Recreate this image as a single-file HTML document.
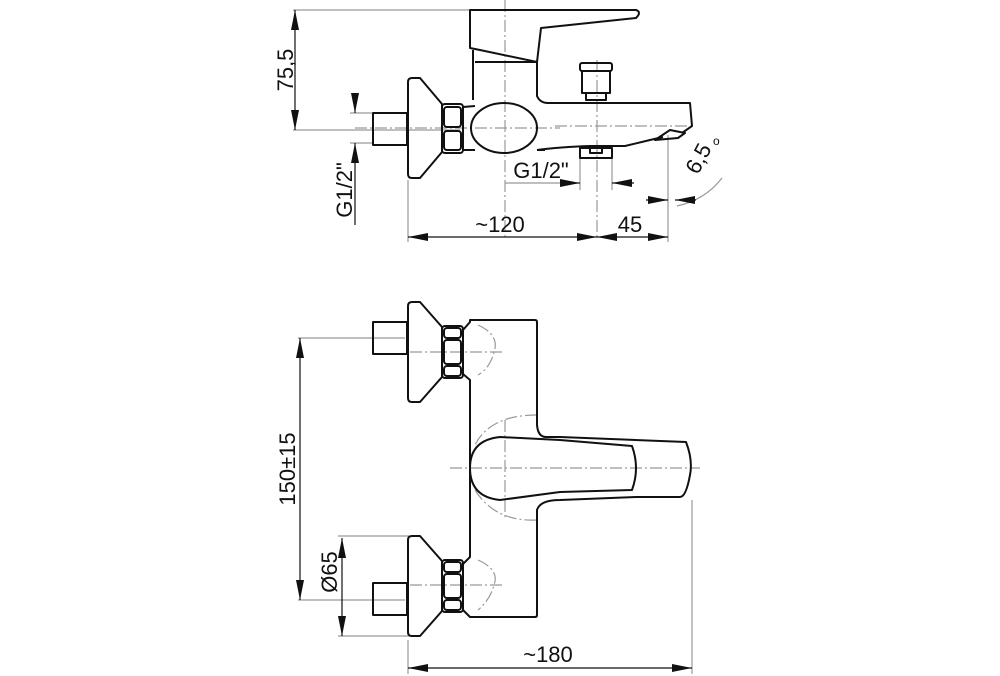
<!DOCTYPE html>
<html><head><style>body{margin:0;background:#fff}svg{display:block}text{font-family:"Liberation Sans",Arial,sans-serif;fill:#111}</style></head>
<body>
<svg width="1000" height="676" viewBox="0 0 1000 676" xmlns="http://www.w3.org/2000/svg">
<defs>
<marker id="a" viewBox="0 0 20 8" refX="20" refY="4" markerWidth="20" markerHeight="8" markerUnits="userSpaceOnUse" orient="auto-start-reverse"><path d="M0,0L20,4L0,8z" fill="#111"/></marker>
</defs>
<g stroke="#999" stroke-width="1.2" fill="none">
<line x1="293" y1="10" x2="470" y2="10"/>
<line x1="293" y1="130" x2="460" y2="130"/>
<line x1="350" y1="113" x2="372" y2="113"/>
<line x1="350" y1="143" x2="372" y2="143"/>
<line x1="408" y1="180" x2="408" y2="242"/>
<line x1="580" y1="150" x2="580" y2="190"/>
<line x1="612" y1="150" x2="612" y2="190"/>
<line x1="668" y1="135" x2="668" y2="242"/>
<path d="M722,178 Q705,200 677,206"/>
<line x1="505" y1="183" x2="565" y2="183"/>
<line x1="298" y1="338" x2="405" y2="338"/>
<line x1="298" y1="600" x2="405" y2="600"/>
<line x1="338" y1="536" x2="410" y2="536"/>
<line x1="338" y1="636" x2="410" y2="636"/>
<line x1="408" y1="640" x2="408" y2="674"/>
<line x1="692" y1="500" x2="692" y2="674"/>
</g>
<g stroke="#999" stroke-width="1.2" fill="none" stroke-dasharray="12,3,2,3">
<line x1="505" y1="0" x2="505" y2="240"/>
<line x1="597" y1="60" x2="597" y2="240"/>
<line x1="355" y1="128" x2="560" y2="128"/>
<line x1="555" y1="126" x2="690" y2="126"/>
<line x1="410" y1="352" x2="505" y2="352"/>
<line x1="410" y1="585" x2="505" y2="585"/>
<line x1="450" y1="468" x2="700" y2="468"/>
<line x1="505" y1="420" x2="505" y2="520"/>
<path d="M478,325 Q500,335 494,352 Q490,368 478,375"/>
<path d="M478,560 Q500,570 494,585 Q490,600 478,610"/>
<path d="M537,415 Q490,415 475,445 M475,490 Q495,522 537,520"/>
</g>
<g stroke="#111" stroke-width="1.2" fill="none">
<line x1="295" y1="70" x2="295" y2="10" marker-end="url(#a)"/>
<line x1="295" y1="70" x2="295" y2="130" marker-end="url(#a)"/>
<line x1="355" y1="93" x2="355" y2="113" marker-end="url(#a)"/>
<line x1="355" y1="225" x2="355" y2="143" marker-end="url(#a)"/>
<line x1="560" y1="183" x2="580" y2="183" marker-end="url(#a)"/>
<line x1="634" y1="183" x2="612" y2="183" marker-end="url(#a)"/>
<line x1="646" y1="200" x2="668" y2="200" marker-end="url(#a)"/>
<line x1="696" y1="200" x2="675" y2="200" marker-end="url(#a)"/>
<line x1="408" y1="237" x2="597" y2="237" marker-start="url(#a)" marker-end="url(#a)"/>
<line x1="597" y1="237" x2="668" y2="237" marker-start="url(#a)" marker-end="url(#a)"/>
<line x1="300" y1="338" x2="300" y2="600" marker-start="url(#a)" marker-end="url(#a)"/>
<line x1="342" y1="580" x2="342" y2="538" marker-end="url(#a)"/>
<line x1="342" y1="580" x2="342" y2="636" marker-end="url(#a)"/>
<line x1="408" y1="668" x2="692" y2="668" marker-start="url(#a)" marker-end="url(#a)"/>
</g>
<g stroke="#111" stroke-width="2" fill="none" stroke-linejoin="round">
<rect x="373" y="113" width="34" height="32"/>
<path d="M408,82 Q408,78 412,78 L420,78 L442,104 L442,152 L420,178 L412,178 Q408,178 408,174 Z"/>
<rect x="442" y="104" width="21" height="49" rx="3"/>
<rect x="444" y="107" width="17" height="20" rx="3"/>
<rect x="444" y="131" width="17" height="19" rx="3"/>
<path d="M463,107 L475,106"/>
<path d="M463,150 L475,150"/>
<ellipse cx="504" cy="128" rx="33" ry="25"/>
<path d="M470,10 L636,10 Q642,12 636,18 L541,28 L537,62 L480,50 L470,48 Z"/>
<path d="M473,50 L473,100 M537,62 L537,96 Q540,103 548,103 L690,103 L692,126 L682,133 M537,150 L545,150"/>
<path d="M475,62 L537,62"/>
<path d="M537,150 Q560,147 590,146 L625,146 L650,140 L663,137"/>
<path d="M655,140 L670,130 L685,133 L678,138 Z"/>
<rect x="580" y="63" width="32" height="8" rx="2"/>
<rect x="582" y="71" width="28" height="22"/>
<rect x="586" y="93" width="20" height="7"/>
<rect x="580" y="148" width="32" height="10"/>
<rect x="590" y="148" width="12" height="5"/>
<rect x="373" y="322" width="34" height="32"/>
<path d="M408,306 Q408,302 412,302 L420,302 L442,327 L442,377 L420,402 L412,402 Q408,402 408,398 Z"/>
<rect x="442" y="326" width="21" height="52" rx="3"/>
<rect x="444" y="328" width="17" height="10" rx="3"/>
<rect x="444" y="340" width="17" height="24" rx="3"/>
<rect x="444" y="366" width="17" height="10" rx="3"/>
<rect x="373" y="583" width="34" height="32"/>
<path d="M408,540 Q408,536 412,536 L420,536 L442,561 L442,611 L420,636 L412,636 Q408,636 408,632 Z"/>
<rect x="442" y="560" width="21" height="52" rx="3"/>
<rect x="444" y="562" width="17" height="10" rx="3"/>
<rect x="444" y="574" width="17" height="24" rx="3"/>
<rect x="444" y="600" width="17" height="10" rx="3"/>
<path d="M463,330 L470,322 L470,320 L535,320 Q537,320 537,322 L537,425 Q538,437 546,437 L560,437 L686,442 Q693,460 690,475 Q686,497 680,497 L637,497 L560,500 Q540,500 537,510 L537,615 Q537,617 535,617 L470,617 L463,610"/>
<path d="M463,374 L470,380 L470,557 L463,564"/>
<path d="M470,468 Q470,440 500,437 L560,440 L632,446 Q640,468 632,490 L560,492 L500,500 Q470,497 470,468"/>
</g>
<g font-size="22">
<text transform="translate(293,70) rotate(-90)" text-anchor="middle">75,5</text>
<text transform="translate(352,190) rotate(-90)" text-anchor="middle">G1/2"</text>
<text x="541" y="178" text-anchor="middle">G1/2"</text>
<text transform="translate(705,162) rotate(-62)" text-anchor="middle">6,5</text>
<text x="713" y="145" font-size="12">o</text>
<text x="500" y="232" text-anchor="middle">~120</text>
<text x="630" y="232" text-anchor="middle">45</text>
<text transform="translate(295,469) rotate(-90)" text-anchor="middle">150±15</text>
<text transform="translate(337,572) rotate(-90)" text-anchor="middle">Ø65</text>
<text x="548" y="662" text-anchor="middle">~180</text>
</g>
</svg>
</body></html>
